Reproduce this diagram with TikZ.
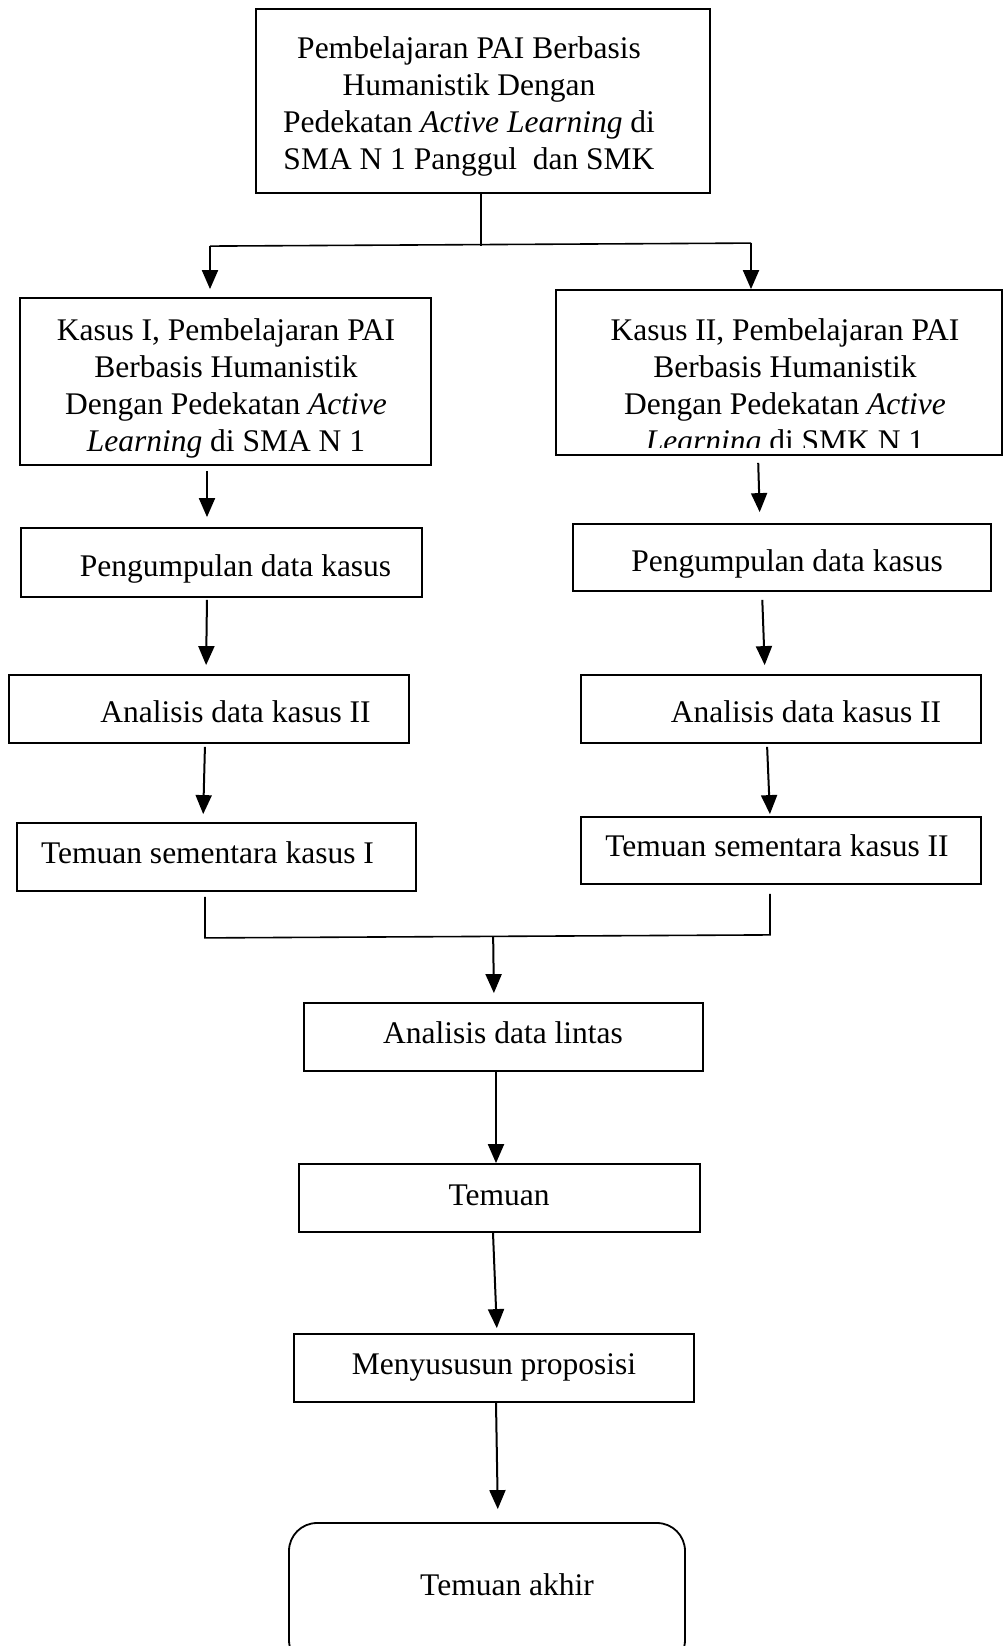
\documentclass[tikz,border=0pt]{standalone}
\usepackage{fontspec}
\setmainfont{Liberation Serif}
\usetikzlibrary{arrows.meta,calc}

\tikzset{
  kotak/.style={draw, line width=1.8pt, inner sep=0pt},
  teks/.style={inner sep=0pt, align=center, font=\fontsize{31.5}{37}\selectfont},
  garis/.style={line width=1.6pt},
  panah/.style={line width=2pt, -{Triangle[length=19pt,width=16pt]}},
}

\begin{document}
\begin{tikzpicture}[x=1pt,y=-1pt]
\clip (0,0) rectangle (1003,1646);
\fill[white] (0,0) rectangle (1003,1646);

% kotak-kotak
\node[kotak, minimum width=454pt, minimum height=184pt] (judul) at (483,101) {};
\node[kotak, minimum width=411pt, minimum height=167pt] (kasusA) at (225.5,381.5) {};
\node[kotak, minimum width=446pt, minimum height=165pt] (kasusB) at (779,372.5) {};
\node[kotak, minimum width=401pt, minimum height=69pt] (kumpulA) at (221.5,562.5) {};
\node[kotak, minimum width=418pt, minimum height=67pt] (kumpulB) at (782,557.5) {};
\node[kotak, minimum width=400pt, minimum height=68pt] (analisisA) at (209,709) {};
\node[kotak, minimum width=400pt, minimum height=68pt] (analisisB) at (781,709) {};
\node[kotak, minimum width=399pt, minimum height=68pt] (temuanA) at (216.5,857) {};
\node[kotak, minimum width=400pt, minimum height=67pt] (temuanB) at (781,850.5) {};
\node[kotak, minimum width=399pt, minimum height=68pt] (lintas) at (503.5,1037) {};
\node[kotak, minimum width=401pt, minimum height=68pt] (temuan) at (499.5,1198) {};
\node[kotak, minimum width=400pt, minimum height=68pt] (proposisi) at (494,1368) {};
\node[kotak, rounded corners=28pt, minimum width=396pt, minimum height=145pt] (akhir) at (487,1595.5) {};

% teks
\node[teks, anchor=north] (judul-t) at (469,32) {\strut Pembelajaran PAI Berbasis\\
  \strut Humanistik Dengan\\
  \strut Pedekatan \textit{Active Learning} di\\
  \strut SMA N 1 Panggul \ dan SMK};
\node[teks, anchor=north] (kasusA-t) at (226,314) {\strut Kasus I, Pembelajaran PAI\\
  \strut Berbasis Humanistik\\
  \strut Dengan Pedekatan \textit{Active}\\
  \strut \textit{Learning} di SMA N 1};
\begin{scope}
  \clip (kasusB.north west) rectangle ([yshift=8pt]kasusB.south east);
  \node[teks, anchor=north] (kasusB-t) at (785,314) {\strut Kasus II, Pembelajaran PAI\\
    \strut Berbasis Humanistik\\
    \strut Dengan Pedekatan \textit{Active}\\
    \strut \textit{Learning} di SMK N 1};
\end{scope}
\node[teks, anchor=base] (kumpulA-t) at (235.5,576.5) {Pengumpulan data kasus};
\node[teks, anchor=base] (kumpulB-t) at (787,571) {Pengumpulan data kasus};
\node[teks, anchor=base] (analisisA-t) at (235.5,722.5) {Analisis data kasus II};
\node[teks, anchor=base] (analisisB-t) at (806,722.5) {Analisis data kasus II};
\node[teks, anchor=base] (temuanA-t) at (207.5,863) {Temuan sementara kasus I};
\node[teks, anchor=base] (temuanB-t) at (777,856) {Temuan sementara kasus II};
\node[teks, anchor=base] (lintas-t) at (503,1043) {Analisis data lintas};
\node[teks, anchor=base] (temuan-t) at (499,1205) {Temuan};
\node[teks, anchor=base] (proposisi-t) at (494,1374) {Menyususun proposisi};
\node[teks, anchor=base] (akhir-t) at (507,1595) {Temuan akhir};

% cabang atas
\coordinate (cabang) at ([xshift=-2pt,yshift=-52pt]judul.south);
\coordinate (kiri) at ([xshift=-15.5pt,yshift=51pt]kasusA.north);
\coordinate (kanan) at ([xshift=-28pt,yshift=46pt]kasusB.north);
\draw[garis] ([xshift=-2pt]judul.south) -- (cabang);
\draw[garis] (kiri) -- (kanan);
\draw[panah, shorten >=8pt] (kiri) -- (kiri |- kasusA.north);
\draw[panah] (kanan) -- (kanan |- kasusB.north);

% panah kiri
\draw[panah, shorten <=5pt, shorten >=10pt] ([xshift=-18.5pt]kasusA.south) -- ([xshift=-14.5pt]kumpulA.north);
\draw[panah, shorten <=2pt, shorten >=9pt] ([xshift=-14.5pt]kumpulA.south) -- ([xshift=-3pt]analisisA.north);
\draw[panah, shorten <=3pt, shorten >=8pt] ([xshift=-4pt]analisisA.south) -- ([xshift=-13.5pt]temuanA.north);

% panah kanan
\draw[panah, shorten <=7pt, shorten >=11pt] ([xshift=-21pt]kasusB.south) -- ([xshift=-22pt]kumpulB.north);
\draw[panah, shorten <=8pt, shorten >=9pt] ([xshift=-20pt]kumpulB.south) -- ([xshift=-16pt]analisisB.north);
\draw[panah, shorten <=3pt, shorten >=2pt] ([xshift=-14pt]analisisB.south) -- ([xshift=-11pt]temuanB.north);

% gabungan bawah
\coordinate (sikuA) at ([xshift=-11.5pt,yshift=-46pt]temuanA.south);
\coordinate (sikuB) at ([xshift=-11pt,yshift=-50pt]temuanB.south);
\draw[garis] ([xshift=-11.5pt,yshift=-5pt]temuanA.south) -- (sikuA) -- (sikuB)
  -- ([xshift=-11pt,yshift=-9pt]temuanB.south);
\coordinate (tengah) at ($(sikuA)!.51!(sikuB)$);
\draw[panah, shorten >=9pt] (tengah) -- ([xshift=-9.5pt]lintas.north);
\draw[panah] ([xshift=-7.5pt]lintas.south) -- ([xshift=-3.5pt]temuan.north);
\draw[panah, shorten >=5pt] ([xshift=-6.5pt]temuan.south) -- ([xshift=3pt]proposisi.north);
\draw[panah, shorten >=13pt] ([xshift=2pt]proposisi.south) -- ([xshift=11pt]akhir.north);
\end{tikzpicture}
\end{document}
